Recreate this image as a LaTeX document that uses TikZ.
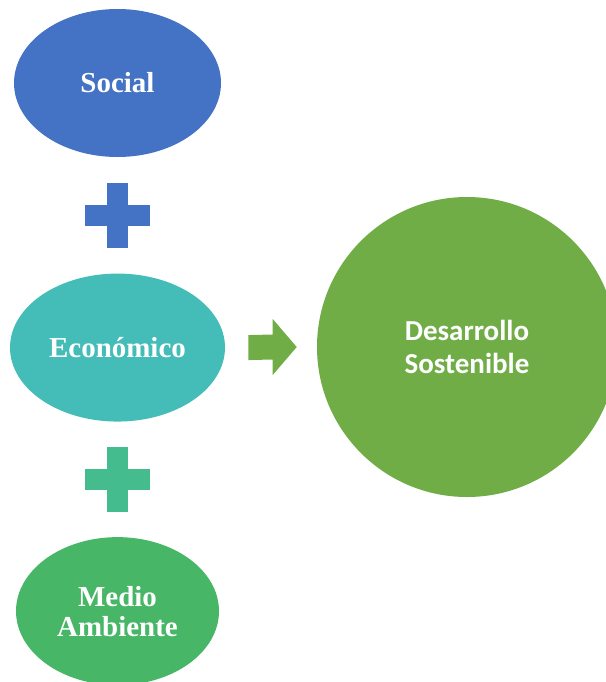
\documentclass[tikz,border=0pt]{standalone}
\usepackage{fontspec}
\setmainfont{Liberation Serif}
\newfontfamily\calibri{Carlito}
\usepackage{tikz}
\usetikzlibrary{shapes.geometric, positioning, calc}
\definecolor{socialblue}{RGB}{68, 114, 196}
\definecolor{econteal}{RGB}{68, 189, 185}
\definecolor{plusgreen}{RGB}{69, 188, 141}
\definecolor{envgreen}{RGB}{71, 182, 102}
\definecolor{devgreen}{RGB}{112, 173, 71}

\tikzset{
  pillar/.style={ellipse, fill=#1, text=white, align=center, inner sep=0pt,
    minimum height=3.7cm, font=\fontsize{20.6}{21.3}\selectfont\bfseries},
  goal/.style={circle, fill=devgreen, text=white, align=center, inner sep=0pt,
    minimum size=7.5cm, font=\calibri\fontsize{20.6}{23.2}\selectfont\bfseries},
  hbar/.style={rectangle, inner sep=0pt, minimum width=1.625cm, minimum height=0.525cm},
  vbar/.style={rectangle, inner sep=0pt, minimum width=0.525cm, minimum height=1.625cm}
}

\begin{document}
\begin{tikzpicture}
  \useasboundingbox (0, 0) rectangle (15.15, -17.05);

  % Three pillars
  \node[pillar=socialblue, minimum width=5.175cm] (social) at (2.9375, -2.075) {Social};
  \node[pillar=econteal, minimum width=5.375cm, below=2.9cm of social] (econ) {Económico};
  \node[pillar=envgreen, minimum width=5.075cm, below=2.875cm of econ] (env) {Medio\\Ambiente};

  % Plus signs
  \coordinate (plus1) at ($(social.south)!0.5!(econ.north)$);
  \coordinate (plus2) at ($(econ.south)!0.5!(env.north)$);
  \node[hbar, fill=socialblue] (plus1h) at (plus1) {};
  \node[vbar, fill=socialblue] (plus1v) at (plus1) {};
  \node[hbar, fill=plusgreen] (plus2h) at (plus2) {};
  \node[vbar, fill=plusgreen] (plus2v) at (plus2) {};

  % Goal
  \node[goal] (dev) at (11.675, -8.675) {Desarrollo\\Sostenible};

  % Block arrow
  \coordinate (arrowtail) at ($(econ.east)+(0.575, 0)$);
  \coordinate (arrowtip) at ($(dev.west)+(-0.5, 0)$);
  \fill[devgreen] ($(arrowtail)+(0, 0.3125)$) -- ($(arrowtip)+(-0.6, 0.3125)$)
    -- ($(arrowtip)+(-0.6, 0.7)$) -- (arrowtip) -- ($(arrowtip)+(-0.6, -0.7)$)
    -- ($(arrowtip)+(-0.6, -0.3125)$) -- ($(arrowtail)+(0, -0.3125)$) -- cycle;
\end{tikzpicture}
\end{document}
